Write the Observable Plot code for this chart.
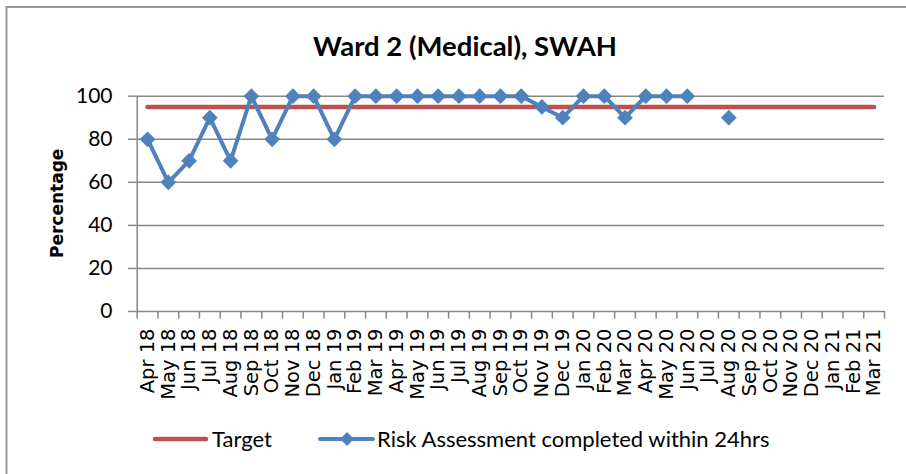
<!DOCTYPE html>
<html><head><meta charset="utf-8">
<script src="https://cdn.jsdelivr.net/npm/d3@7"></script>
<script src="https://cdn.jsdelivr.net/npm/@observablehq/plot@0.6"></script>
<style>body{margin:0;background:#fff}</style>
</head><body><div id="chart"></div>
<script>
const months = ["Apr 18","May 18","Jun 18","Jul 18","Aug 18","Sep 18","Oct 18","Nov 18","Dec 18","Jan 19","Feb 19","Mar 19",
  "Apr 19","May 19","Jun 19","Jul 19","Aug 19","Sep 19","Oct 19","Nov 19","Dec 19","Jan 20","Feb 20","Mar 20",
  "Apr 20","May 20","Jun 20","Jul 20","Aug 20","Sep 20","Oct 20","Nov 20","Dec 20","Jan 21","Feb 21","Mar 21"];
const riskValues = [80,60,70,90,70,100,80,100,100,80,100,100,
  100,100,100,100,100,100,100,95,90,100,100,90,
  100,100,100,null,90,null,null,null,null,null,null,null];
const targetValue = 95;
const yTicks = [0,20,40,60,80,100];
const chartTitle = "Ward 2 (Medical), SWAH";
const yLabel = "Percentage";
const seriesNames = ["Target","Risk Assessment completed within 24hrs"];

const RED = "#C0504D", BLUE = "#4F81BD", GRID = "#878787";
const W = 906, H = 474, mL = 136.7, mR = 22, mT = 95.7, mB = 163;
const step = (W - mL - mR) / months.length;

const rows = months.map((m, i) => ({month: m, value: riskValues[i] == null ? NaN : riskValues[i], target: targetValue}));
const pts = rows.filter(d => !isNaN(d.value));

const svg = Plot.plot({
  width: W, height: H, marginLeft: mL, marginRight: mR, marginTop: mT, marginBottom: mB,
  style: {background: "#fff", overflow: "visible"},
  x: {type: "point", domain: months, padding: 0.5, align: 0.5, round: false},
  y: {domain: [0, 100]},
  marks: [
    Plot.ruleY(yTicks, {stroke: GRID, strokeWidth: 1.5}),
    Plot.axisY({ticks: yTicks, tickSize: 8.7, tickPadding: 16, fontSize: 21, fontFamily: "Lato", stroke: GRID, strokeWidth: 1.5, fill: "#000", label: null}),
    Plot.ruleX([months[0]], {dx: -step / 2, y1: -3.5, y2: 100, stroke: GRID, strokeWidth: 1.5}),
    Plot.ruleX(months, {dx: step / 2, y1: -3.5, y2: 0, stroke: GRID, strokeWidth: 1.5}),
    Plot.axisX({tickSize: 0, tickPadding: 17, tickRotate: -90, fontSize: 19.5, fontFamily: "DejaVu Sans", fill: "#000", label: null}),
    Plot.line(rows, {x: "month", y: "target", stroke: RED, strokeWidth: 4.5, strokeLinecap: "round"}),
    Plot.line(rows, {x: "month", y: "value", stroke: BLUE, strokeWidth: 4, strokeLinejoin: "round"}),
    Plot.dot(pts, {x: "month", y: "value", symbol: "diamond2", r: 7.1, fill: BLUE, stroke: "none"})
  ]
});

const s = d3.select(svg);
// chart border
s.insert("rect", ":first-child").attr("x", 6.5).attr("y", 7).attr("width", W + 10).attr("height", H + 10)
  .attr("fill", "none").attr("stroke", "#999").attr("stroke-width", 2);
// title
s.append("text").attr("x", 465).attr("y", 56).attr("text-anchor", "middle")
  .attr("font-family", "Lato").attr("font-weight", "bold").attr("font-size", 27.5).attr("fill", "#000").text(chartTitle);
// y label
s.append("text").attr("transform", `translate(63,${(mT + H - mB) / 2}) rotate(-90)`).attr("text-anchor", "middle")
  .attr("font-family", "DejaVu Sans").attr("font-weight", "bold").attr("font-size", 17).attr("fill", "#000").text(yLabel);
// legend
const lg = s.append("g").attr("text-anchor", "start");
lg.append("line").attr("x1", 155).attr("x2", 206).attr("y1", 439).attr("y2", 439)
  .attr("stroke", RED).attr("stroke-width", 4.5).attr("stroke-linecap", "round");
lg.append("text").attr("x", 212).attr("y", 447).attr("text-anchor", "start").attr("font-family", "Lato").attr("font-size", 22).attr("fill", "#000").text(seriesNames[0]);
lg.append("line").attr("x1", 320).attr("x2", 373).attr("y1", 439).attr("y2", 439)
  .attr("stroke", BLUE).attr("stroke-width", 4).attr("stroke-linecap", "round");
lg.append("path").attr("d", d3.symbol(d3.symbolDiamond2, 125)()).attr("transform", "translate(347,439)").attr("fill", BLUE);
lg.append("text").attr("x", 377).attr("y", 447).attr("text-anchor", "start").attr("font-family", "Lato").attr("font-size", 22).attr("fill", "#000").text(seriesNames[1]);

document.getElementById("chart").appendChild(svg);
</script>
</body></html>
